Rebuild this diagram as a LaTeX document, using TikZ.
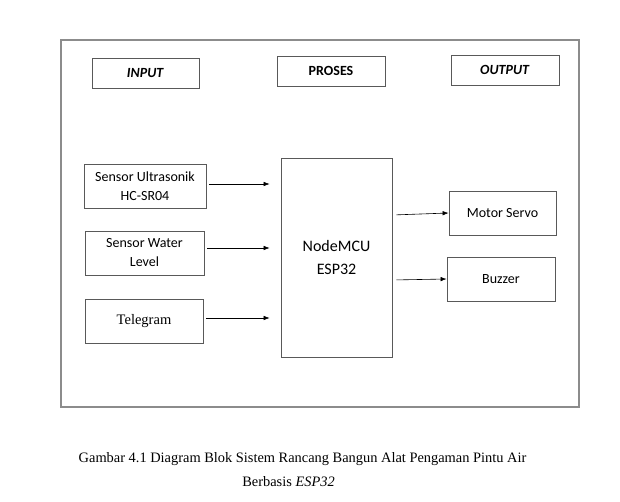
\documentclass[tikz,border=0pt]{standalone}
\usepackage{fontspec}
\setmainfont{Liberation Serif}
\newfontfamily\calibri{Carlito}
\usetikzlibrary{arrows.meta}

\begin{document}
\begin{tikzpicture}[x=1pt, y=-1pt,
    blok/.style={draw=black!65, line width=0.8pt, align=center, inner sep=0pt,
      font=\calibri\fontsize{14}{19}\selectfont},
    panah/.style={-{Latex[length=6pt,width=4.5pt]}, line width=0.6pt}]
    \useasboundingbox (0,0) rectangle (620,502);
    \draw[black!45, line width=1.3pt] (61,40) rectangle (579,407);

    % judul kolom
    \node[blok, minimum width=107, minimum height=30] (input) at (145.5,73) {\textbf{\textit{INPUT}}};
    \node[blok, minimum width=108, minimum height=30] (proses) at (331,71) {\textbf{PROSES}};
    \node[blok, minimum width=108, minimum height=30] (output) at (505,70) {\textbf{\textit{OUTPUT}}};

    % input
    \node[blok, minimum width=122, minimum height=44] (ultra) at (145,186) {Sensor Ultrasonik\\HC-SR04};
    \node[blok, minimum width=119, minimum height=44] (water) at (144.5,253) {Sensor Water\\Level};
    \node[blok, minimum width=118, minimum height=44, font=\fontsize{14.5}{18}\selectfont] (tele) at (144,321) {Telegram};

    % proses
    \node[blok, minimum width=111, minimum height=199, font=\calibri\fontsize{16}{22}\selectfont] (mcu) at (336.5,257.5) {NodeMCU\\ESP32};

    % output
    \node[blok, minimum width=107, minimum height=44] (servo) at (502.5,213) {Motor Servo};
    \node[blok, minimum width=108, minimum height=44] (buzzer) at (501,279) {Buzzer};

    \foreach \n/\dy in {ultra/2, water/5, tele/3} {
        \draw[panah, shorten <=3pt, shorten >=11pt] ([yshift=\dy pt]\n.east) -- ([yshift=\dy pt]\n.east -| mcu.west);
    }
    \draw[panah, shorten <=4pt] ([yshift=42.5pt]mcu.east) -- (servo.west);
    \draw[panah, shorten <=4pt] ([yshift=-22.5pt]mcu.east) -- (buzzer.west);

    % keterangan
    \node[font=\fontsize{14.4}{17}\selectfont] (ket1) at (302.5,459) {Gambar 4.1 Diagram Blok Sistem Rancang Bangun Alat Pengaman Pintu Air};
    \node[font=\fontsize{14.4}{17}\selectfont] (ket2) at (288.5,482) {Berbasis \textit{ESP32}};
\end{tikzpicture}
\end{document}
